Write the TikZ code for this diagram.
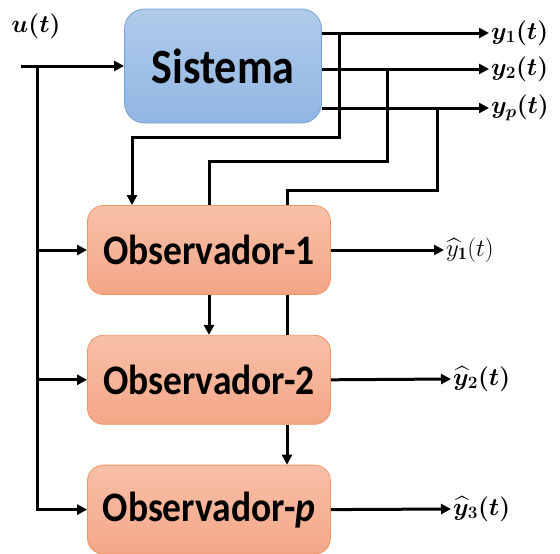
\documentclass[tikz,border=0pt]{standalone}
\usepackage{amsmath}
\usepackage{graphicx}
\usepackage{fontspec}
\newfontfamily\boxfont{Carlito}
\usetikzlibrary{arrows.meta,positioning}

\definecolor{systop}{RGB}{176,203,235}
\definecolor{sysbot}{RGB}{145,182,227}
\definecolor{sysedge}{RGB}{120,162,212}
\definecolor{obstop}{RGB}{247,192,168}
\definecolor{obsbot}{RGB}{244,166,134}
\definecolor{obsedge}{RGB}{240,150,100}

\newcommand{\tall}[1]{\scalebox{1}[1.12]{#1}}

\tikzset{
  sysbox/.style={draw=sysedge,line width=0.8pt,rounded corners=20pt,top color=systop,bottom color=sysbot,
    minimum width=197pt,minimum height=114pt,font=\boxfont\bfseries\fontsize{44}{50}\selectfont},
  obsbox/.style={draw=obsedge,line width=0.8pt,rounded corners=16pt,top color=obstop,bottom color=obsbot,
    minimum width=243pt,minimum height=89pt,font=\boxfont\bfseries\fontsize{37.5}{44}\selectfont},
  wire/.style={line width=3pt},
  arr/.style={wire,-{Triangle[length=10pt,width=10pt]}},
  sig/.style={anchor=west,inner sep=2pt,font=\fontsize{25}{30}\selectfont}
}

\begin{document}
\begin{tikzpicture}[x=1pt,y=-1pt]
    \useasboundingbox (0,0) rectangle (560,554);

    \node[sysbox] (sys) at (223,66) {\tall{Sistema}};
    \node[obsbox] (obs1) at (209,250) {\tall{Observador-1}};
    \node[obsbox] (obs2) [below=40pt of obs1] {\tall{Observador-2}};
    \node[obsbox] (obsp) [below=40pt of obs2] {\tall{Observador-\textit{p}}};

    \node (u) at (36,26) {\fontsize{24}{28}\selectfont$\boldsymbol{u(t)}$};
    \coordinate (uin) at (21,66);
    \coordinate (ju) at (37,66);
    \draw[arr] (uin) -- (sys.west);
    \draw[arr] (ju) |- (obsp.west);
    \draw[arr] (ju |- obs1.west) -- (obs1.west);
    \draw[arr] (ju |- obs2.west) -- (obs2.west);

    \node[sig] (y1) at (489,33) {$\boldsymbol{y_1(t)}$};
    \node[sig] (y2) at (489,69) {$\boldsymbol{y_2(t)}$};
    \node[sig] (yp) at (489,108) {$\boldsymbol{y_p(t)}$};
    \draw[arr] (sys.east |- y1) -- (y1.west);
    \draw[arr] (sys.east |- y2) -- (y2.west);
    \draw[arr] (sys.east |- yp) -- (yp.west);

    \coordinate (t1) at (339,33);
    \coordinate (t2) at (387,69);
    \coordinate (t3) at (437,108);
    \coordinate (b1) at (132,137);
    \coordinate (b2) at (209,161);
    \coordinate (b3) at (287,190);

    \draw[arr] (t1) |- (b1) -- (b1 |- obs1.north);
    \draw[wire] (t2) |- (b2) -- (b2 |- obs1.north);
    \draw[arr] (b2 |- obs1.south) -- (b2 |- obs2.north);
    \draw[wire] (t3) |- (b3) -- (b3 |- obs1.north);
    \draw[wire] (b3 |- obs1.south) -- (b3 |- obs2.north);
    \draw[arr] (b3 |- obs2.south) -- (b3 |- obsp.north);

    \node[sig] (h1) at (444,250) {$\widehat{y}_{\mathbf{1}}(t)$};
    \node[sig] (h2) at (451,379) {$\boldsymbol{\widehat{y}_2(t)}$};
    \node[sig] (h3) at (451,509) {$\boldsymbol{\widehat{y}_3(t)}$};
    \draw[arr] (obs1.east) -- (h1.west);
    \draw[arr] (obs2.east) -- (h2.west);
    \draw[arr] (obsp.east) -- (h3.west);
\end{tikzpicture}
\end{document}
